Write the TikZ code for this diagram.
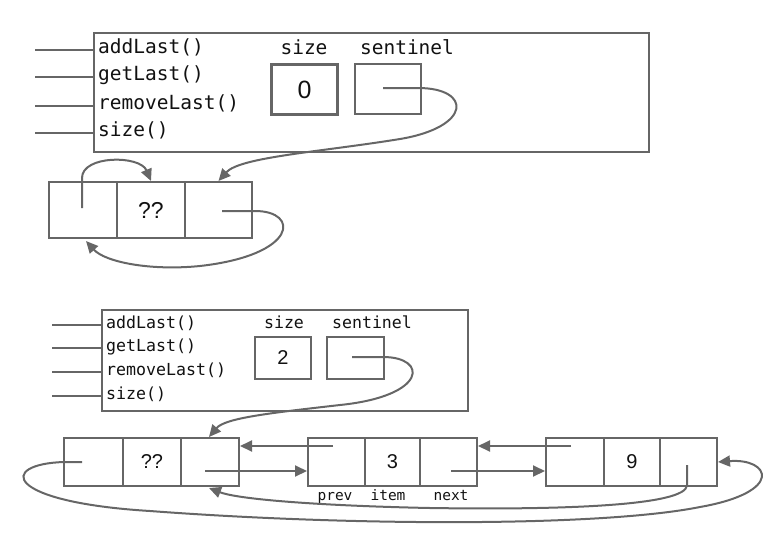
\documentclass[tikz,border=0pt]{standalone}
\usepackage{fontspec}
\setmonofont{DejaVu Sans Mono}
\newfontfamily\numfont{Liberation Sans}
\usetikzlibrary{arrows.meta,calc}
\definecolor{lg}{HTML}{666666}
\definecolor{tx}{HTML}{111111}
\begin{document}
\begin{tikzpicture}[x=1pt,y=-1pt,
  line/.style={draw=lg, line width=2pt},
  arr/.style={draw=lg, line width=2pt, -{Triangle[length=12pt,width=11pt]}},
  box/.style={draw=lg, line width=2pt, inner sep=0pt, anchor=north west},
  mono/.style={text=tx, inner sep=0pt, text height=0.75em, text depth=0.15em},
  bigmono/.style={mono, font=\fontsize{19.5}{19.5}\selectfont\ttfamily},
  smallmono/.style={mono, font=\fontsize{16.6}{16.6}\selectfont\ttfamily},
  tinymono/.style={mono, font=\fontsize{14.5}{14.5}\selectfont\ttfamily},
  bignum/.style={text=tx, font=\fontsize{25}{25}\selectfont\numfont},
  smallnum/.style={text=tx, font=\fontsize{20}{20}\selectfont\numfont},
]
\useasboundingbox (0,0) rectangle (771,538);

% ===== Top diagram =====
\node[box, minimum width=555pt, minimum height=119pt] (obj1) at (93,32) {};
\foreach \y/\t [count=\i] in {50/addLast(), 77/getLast(), 106/removeLast(), 133/size()} {
  \coordinate (m1\i) at (35,\y);
  \draw[line] (m1\i) -- (m1\i -| obj1.west);
  \node[bigmono, anchor=west] (mt1\i) at (98,\y) {\t};
}
\node[bigmono] (sl1) at (304,51) {size};
\node[bigmono] (sn1) at (407,51) {sentinel};
\node[box, line width=3pt, minimum width=66pt, minimum height=50pt] (sz1) at (270,63) {};
\node[bignum] (sv1) at (sz1.center) {0};
\node[box, minimum width=66pt, minimum height=50pt] (se1) at (354,63) {};

\node[box, minimum width=68pt, minimum height=56pt] (t1) at (48,181) {};
\node[box, minimum width=68pt, minimum height=56pt] (t2) at (116,181) {};
\node[box, minimum width=67pt, minimum height=56pt] (t3) at (184,181) {};
\node[smallnum, font=\fontsize{23}{23}\selectfont\numfont] at (t2.center) {??};

\coordinate (se1s) at (383,88);
\draw[arr] (se1s) -- (418,88) .. controls (472,88) and (472,127) .. (400,139)
   .. controls (320,152) and (240,157) .. (t3.north);
\coordinate (t1s) at (82,208);
\draw[arr] (t1s) -- (82,178) .. controls (82,155) and (140,155) .. (t2.north);
\coordinate (t3s) at (222,211);
\draw[arr] (t3s) -- (255,211) .. controls (300,211) and (298,255) .. (200,266)
   .. controls (150,271) and (105,262) .. ($(t1.south)+(3,2)$);

% ===== Bottom diagram =====
\node[box, minimum width=366pt, minimum height=101pt] (obj2) at (101,309) {};
\foreach \y/\t [count=\i] in {325/addLast(), 348/getLast(), 372/removeLast(), 396/size()} {
  \coordinate (m2\i) at (52,\y);
  \draw[line] (m2\i) -- (m2\i -| obj2.west);
  \node[smallmono, anchor=west] (mt2\i) at (106,\y) {\t};
}
\node[smallmono] (sl2) at (284,325) {size};
\node[smallmono] (sn2) at (372,325) {sentinel};
\node[box, minimum width=56pt, minimum height=42pt] (sz2) at (254,336) {};
\node[smallnum] (sv2) at (sz2.center) {2};
\node[box, minimum width=57pt, minimum height=42pt] (se2) at (326,336) {};

\node[box, minimum width=59pt, minimum height=48pt] (a1) at (63,437) {};
\node[box, minimum width=58pt, minimum height=48pt] (a2) at (122,437) {};
\node[box, minimum width=58pt, minimum height=48pt] (a3) at (180,437) {};
\node[smallnum] at (a2.center) {??};

\node[box, minimum width=57pt, minimum height=48pt] (b1) at (307,437) {};
\node[box, minimum width=55pt, minimum height=48pt] (b2) at (364,437) {};
\node[box, minimum width=57pt, minimum height=48pt] (b3) at (419,437) {};
\node[smallnum] at (b2.center) {3};
\node[tinymono] (lp) at (335,497) {prev};
\node[tinymono] (li) at (388,497) {item};
\node[tinymono] (ln) at (451,497) {next};

\node[box, minimum width=58pt, minimum height=48pt] (c1) at (545,437) {};
\node[box, minimum width=56pt, minimum height=48pt] (c2) at (603,437) {};
\node[box, minimum width=57pt, minimum height=48pt] (c3) at (659,437) {};
\node[smallnum] at (c2.center) {9};

\coordinate (se2s) at (352,357);
\draw[arr] (se2s) -- (383,357) .. controls (428,357) and (428,396) .. (340,405)
   .. controls (270,413) and (225,418) .. ($(a3.north)+(-1,0)$);

\coordinate (bp) at (333,446);
\draw[arr] (bp) -- (bp -| a3.east);
\coordinate (an) at (205,471);
\draw[arr] (an) -- (an -| b1.west);
\coordinate (cp) at (571,446);
\draw[arr] (cp) -- (cp -| b3.east);
\coordinate (bn) at (451,471);
\draw[arr] (bn) -- (bn -| c1.west);

\coordinate (cn) at (687,465);
\draw[arr] (cn) -- (687,485) .. controls (687,506) and (560,510) .. (430,508)
   .. controls (330,506) and (240,500) .. ($(a3.south)+(-1,1)$);
\coordinate (ap) at (82,462);
\draw[arr] (ap) -- (64,462) .. controls (-2,464) and (3,502) .. (150,511)
   .. controls (350,526) and (600,527) .. (700,507)
   .. controls (785,492) and (770,458) .. (c3.east);
\end{tikzpicture}
\end{document}
